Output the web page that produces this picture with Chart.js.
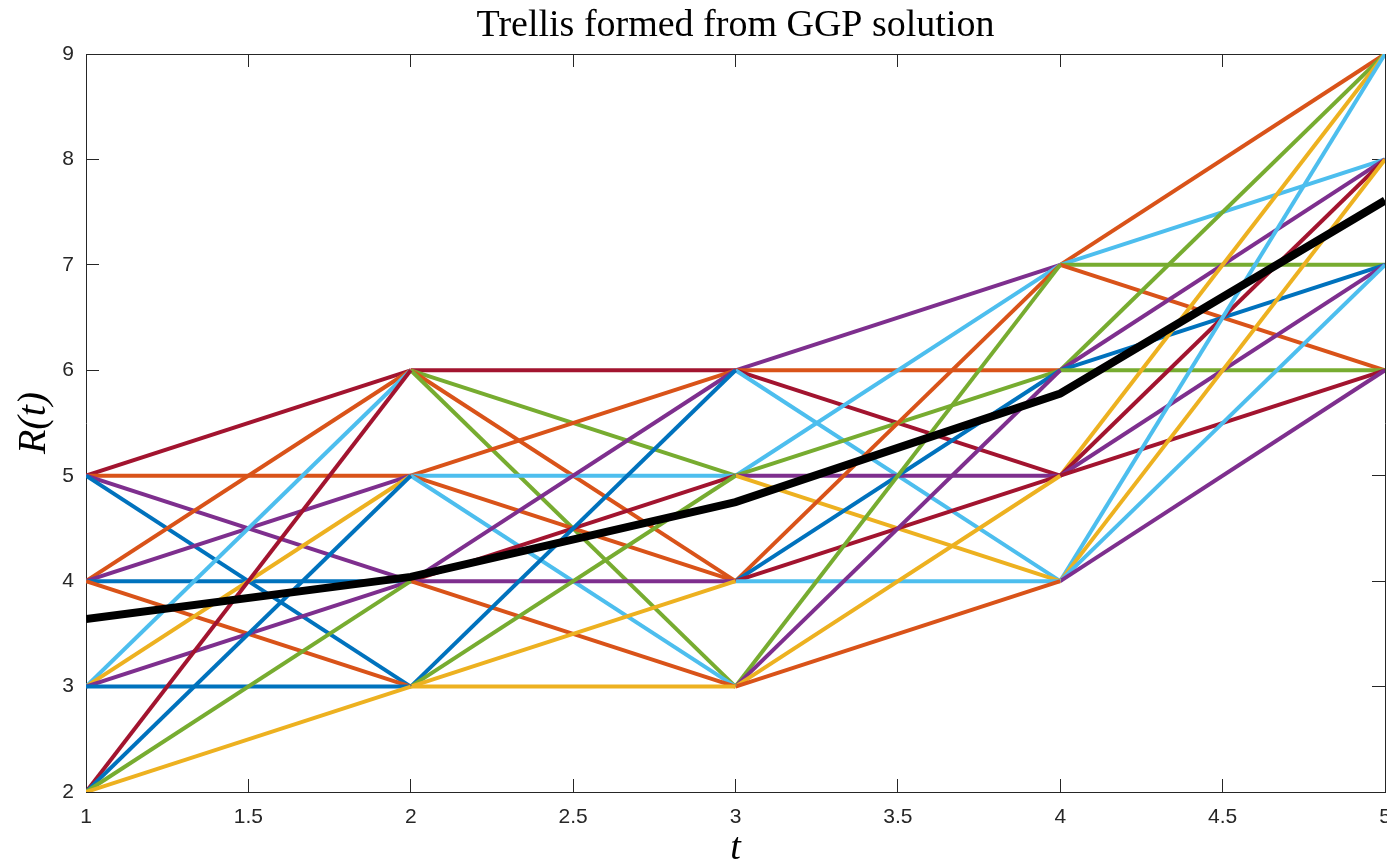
<!DOCTYPE html>
<html>
<head>
<meta charset="utf-8">
<title>Trellis formed from GGP solution</title>
<script src="https://cdn.jsdelivr.net/npm/chart.js@4.4.1/dist/chart.umd.min.js"></script>
<style>
  html, body { margin: 0; padding: 0; background: #ffffff; }
  #wrap { width: 1387px; height: 863px; }
</style>
</head>
<body>
<div id="wrap"><canvas id="trellisChart" width="1387" height="863"></canvas></div>
<script>
// time steps of the trellis
const tValues = [1, 2, 3, 4, 5];

// R levels (nodes) available at each time step
const levels = [
  [2, 3, 4, 5],
  [3, 4, 5, 6],
  [3, 4, 5, 6],
  [4, 5, 6, 7],
  [6, 7, 8, 9]
];

// branch colours per stage: row = from level, column = to level (same order as levels)
const stage1 = [["Y", "G", "B", "R"], ["B", "P", "Y", "L"], ["O", "B", "P", "O"], ["B", "P", "O", "R"]];
const stage2 = [["Y", "Y", "G", "B"], ["O", "P", "R", "P"], ["L", "O", "L", "O"], ["G", "O", "G", "R"]];
const stage3 = [["O", "Y", "P", "G"], ["L", "R", "B", "O"], ["Y", "P", "G", "L"], ["L", "R", "O", "P"]];
const stage4 = [["P", "L", "Y", "L"], ["R", "P", "R", "Y"], ["G", "B", "P", "G"], ["O", "G", "L", "O"]];

// GGP solution (black path)
const solution = [3.64, 4.04, 4.75, 5.78, 7.61];

// tick labels
const xTicks = [1, 1.5, 2, 2.5, 3, 3.5, 4, 4.5, 5];
const yTicks = [2, 3, 4, 5, 6, 7, 8, 9];

// matlab default line colours
const palette = {
  B: "#0072BD",
  O: "#D95319",
  Y: "#EDB120",
  P: "#7E2F8E",
  G: "#77AC30",
  L: "#4DBEEE",
  R: "#A2142F"
};

const axisColor = "#262626";
const tickFont = { family: "'Liberation Sans', Arial, Helvetica, sans-serif", size: 21 };
const serif = "'Liberation Serif', 'Times New Roman', serif";

var datasets = [];

// black line goes first so it is drawn on top
datasets.push({
  label: "GGP solution",
  data: tValues.map((t, i) => ({ x: t, y: solution[i] })),
  borderColor: "#000000",
  borderWidth: 8,
  pointRadius: 0,
  fill: false
});

var stages = [stage1, stage2, stage3, stage4];
for (var k = 0; k < stages.length; k++) {
  for (var i = 0; i < 4; i++) {
    for (var j = 0; j < 4; j++) {
      datasets.push({
        label: "branch " + (k + 1) + "-" + i + "-" + j,
        data: [
          { x: tValues[k], y: levels[k][i] },
          { x: tValues[k + 1], y: levels[k + 1][j] }
        ],
        borderColor: palette[stages[k][i][j]],
        borderWidth: 4,
        pointRadius: 0,
        fill: false
      });
    }
  }
}

function zeroPadding(scale) {
  scale.paddingLeft = 0;
  scale.paddingRight = 0;
  scale.paddingTop = 0;
  scale.paddingBottom = 0;
}

// inward tick marks, no grid lines on the plot
function boxGrid() {
  return { display: true, drawOnChartArea: false, drawTicks: true, tickLength: -13, color: axisColor, lineWidth: 1 };
}

const ctx = document.getElementById("trellisChart").getContext("2d");
const trellisChart = new Chart(ctx, {
  type: "line",
  data: { datasets: datasets },
  options: {
    responsive: false,
    animation: false,
    events: [],
    layout: { padding: { left: 0, right: 2, top: 0, bottom: 0 } },
    plugins: {
      legend: { display: false },
      tooltip: { enabled: false },
      title: {
        display: true,
        fullSize: false, // centre over the axes, not the whole canvas
        text: "Trellis formed from GGP solution",
        color: "#000000",
        font: { family: serif, size: 38, weight: "normal", lineHeight: 1 },
        padding: { top: 7, bottom: 9 }
      }
    },
    scales: {
      x: {
        type: "linear",
        position: "bottom",
        min: 1,
        max: 5,
        afterBuildTicks: (scale) => { scale.ticks = xTicks.map((v) => ({ value: v })); },
        afterFit: (scale) => { scale.height = 71; zeroPadding(scale); },
        ticks: { color: axisColor, font: tickFont, padding: 26, maxRotation: 0, autoSkip: false, callback: (v) => String(v) },
        grid: boxGrid(),
        border: { display: true, color: axisColor, width: 1 },
        title: {
          display: true, text: "t", color: "#000000",
          font: { family: serif, size: 38, style: "italic", lineHeight: 1 },
          padding: { top: 0, bottom: -5 }
        }
      },
      x2: {
        type: "linear",
        position: "top",
        min: 1,
        max: 5,
        afterBuildTicks: (scale) => { scale.ticks = xTicks.map((v) => ({ value: v })); },
        afterFit: (scale) => { scale.height = 0; zeroPadding(scale); },
        ticks: { display: false },
        grid: boxGrid(),
        border: { display: true, color: axisColor, width: 1 }
      },
      y: {
        type: "linear",
        position: "left",
        min: 2,
        max: 9,
        afterBuildTicks: (scale) => { scale.ticks = yTicks.map((v) => ({ value: v })); },
        afterFit: (scale) => { scale.width = 86; zeroPadding(scale); },
        ticks: { color: axisColor, font: tickFont, padding: 25, autoSkip: false, callback: (v) => String(v) },
        grid: boxGrid(),
        border: { display: true, color: axisColor, width: 1 },
        title: {
          display: true, text: "R(t)", color: "#000000",
          font: { family: serif, size: 40, style: "italic", lineHeight: 1 },
          padding: { top: 14, bottom: 0 }
        }
      },
      y2: {
        type: "linear",
        position: "right",
        min: 2,
        max: 9,
        afterBuildTicks: (scale) => { scale.ticks = yTicks.map((v) => ({ value: v })); },
        afterFit: (scale) => { scale.width = 0; zeroPadding(scale); },
        ticks: { display: false },
        grid: boxGrid(),
        border: { display: true, color: axisColor, width: 1 }
      }
    }
  }
});
</script>
</body>
</html>
